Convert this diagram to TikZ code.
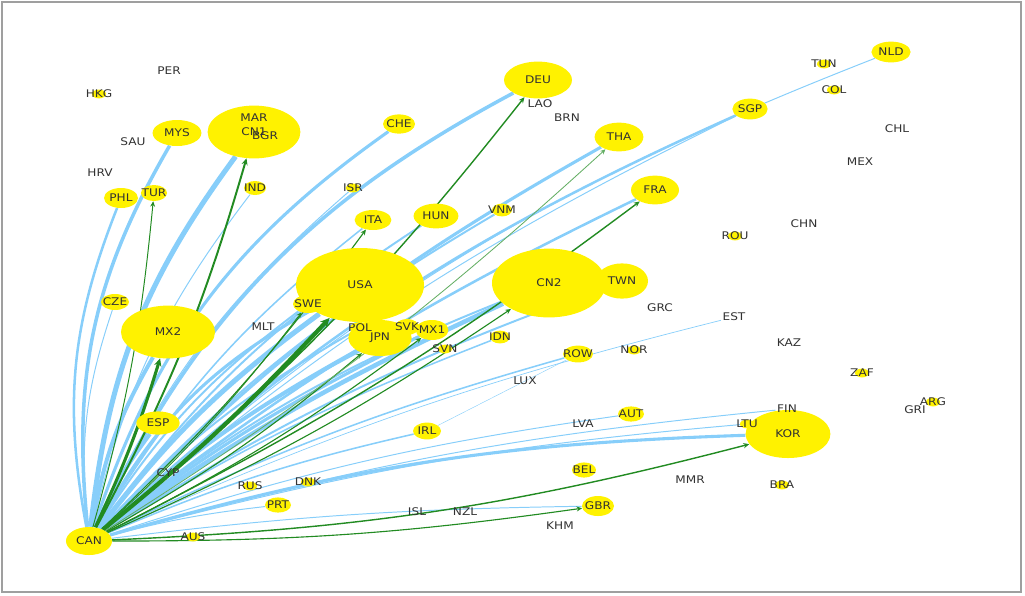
\documentclass[tikz,border=0pt]{standalone}
\usepackage{fontspec}
\newfontfamily\lblfont{DejaVu Sans}[FakeStretch=1.15]
\newcommand\cfont{\lblfont\fontsize{7.5}{9}\selectfont}
\usetikzlibrary{shapes.geometric,arrows.meta}
\definecolor{skyb}{RGB}{135,206,250}
\definecolor{fgreen}{RGB}{34,139,34}
\definecolor{txt}{RGB}{50,50,50}
\pgfdeclarelayer{bg}
\pgfsetlayers{bg,main}

\begin{document}
\begin{tikzpicture}[x=0.025cm, y=-0.025cm,
	% Define the style for the country bubbles
	cty/.style={ellipse, fill=yellow, inner sep=0pt},
	bub/.style n args={3}{cty, minimum width=#1cm, minimum height=#2cm, label={center:#3}},
	dot/.style={cty, minimum width=0.35cm, minimum height=0.22cm, label={center:#1}},
	tag/.style={font=\cfont, text=txt, inner sep=1pt},
	every label/.style={font=\cfont, text=txt, inner sep=0pt},
	% links
	blu/.style={draw=skyb, line width=#1pt},
	grn/.style={draw=fgreen, line width=#1pt, -{Stealth[length=3pt 1.2, width=2.6pt 1.2]}}
	]
	
	\useasboundingbox (0,0) rectangle (1025,595);
	\draw[gray!75, line width=1.2pt] (2,2) rectangle (1021,592);
	
	% --- BIG BUBBLES ---
	\node[bub={1.15}{0.7}{CAN}] (can) at (89,541) {};
	\node[bub={3.2}{1.85}{USA}] (usa) at (360,285) {};
	\node[bub={2.85}{1.72}{CN2}] (cn2) at (549,283) {};
	\node[bub={1.3}{0.88}{TWN}] (twn) at (622,281) {};
	\node[bub={2.32}{1.32}{CN1}] (cn1) at (254,132) {};
	\node[bub={2.35}{1.32}{MX2}] (mx2) at (168,332) {};
	\node[bub={1.58}{0.9}{JPN}] (jpn) at (380,338) {};
	\node[bub={2.12}{1.2}{KOR}] (kor) at (788,434) {};
	\node[bub={1.7}{0.92}{DEU}] (deu) at (538,80) {};
	\node[bub={1.22}{0.72}{THA}] (tha) at (619,137) {};
	\node[bub={1.2}{0.72}{FRA}] (fra) at (655,190) {};
	\node[bub={1.12}{0.62}{HUN}] (hun) at (436,216) {};
	\node[bub={0.92}{0.5}{ITA}] (ita) at (373,220) {};
	\node[bub={0.8}{0.48}{CHE}] (che) at (399,124) {};
	\node[bub={1.22}{0.65}{MYS}] (mys) at (177,133) {};
	\node[bub={0.85}{0.5}{PHL}] (phl) at (121,198) {};
	\node[bub={0.65}{0.4}{TUR}] (tur) at (154,193) {};
	\node[bub={0.55}{0.35}{IND}] (ind) at (255,188) {};
	\node[bub={0.88}{0.52}{SGP}] (sgp) at (750,109) {};
	\node[bub={0.98}{0.52}{NLD}] (nld) at (891,52) {};
	\node[bub={1.08}{0.58}{ESP}] (esp) at (158,423) {};
	\node[bub={0.7}{0.4}{CZE}] (cze) at (115,302) {};
	\node[bub={0.82}{0.5}{MX1}] (mx1) at (432,330) {};
	\node[bub={0.75}{0.45}{SWE}] (swe) at (308,304) {};
	\node[bub={0.6}{0.4}{SVK}] (svk) at (407,327) {};
	\node[bub={0.5}{0.3}{POL}] (pol) at (360,328) {};
	\node[bub={0.5}{0.32}{IDN}] (idn) at (500,337) {};
	\node[bub={0.75}{0.42}{ROW}] (row) at (578,354) {};
	\node[bub={0.65}{0.38}{AUT}] (aut) at (631,414) {};
	\node[bub={0.7}{0.42}{IRL}] (irl) at (427,431) {};
	\node[bub={0.6}{0.38}{BEL}] (bel) at (584,470) {};
	\node[bub={0.8}{0.5}{GBR}] (gbr) at (598,506) {};
	\node[bub={0.65}{0.38}{PRT}] (prt) at (278,505) {};
	\node[bub={0.5}{0.32}{VNM}] (vnm) at (502,210) {};
	
	% --- SMALL DOTS ---
	\node[dot=SVN] (svn) at (445,349) {};
	\node[dot=NOR] (nor) at (634,350) {};
	\node[dot=ZAF] (zaf) at (862,373) {};
	\node[dot=ARG] (arg) at (933,402) {};
	\node[dot=ROU] (rou) at (735,236) {};
	\node[dot=COL] (col) at (834,90) {};
	\node[dot=TUN] (tun) at (824,64) {};
	\node[dot=ISR] (isr) at (353,188) {};
	\node[dot=HKG] (hkg) at (99,94) {};
	\node[dot=RUS] (rus) at (250,486) {};
	\node[dot=DNK] (dnk) at (308,482) {};
	\node[dot=AUS] (aus) at (193,537) {};
	\node[dot=BRA] (bra) at (782,485) {};
	\node[dot=LTU] (ltu) at (747,424) {};
	
	% --- PLAIN LABELS ---
	\node[tag] (per) at (169,71) {PER};
	\node[tag] (sau) at (133,142) {SAU};
	\node[tag] (hrv) at (100,173) {HRV};
	\node[tag] (mlt) at (263,327) {MLT};
	\node[tag] (cyp) at (168,473) {CYP};
	\node[tag] (lux) at (525,381) {LUX};
	\node[tag] (grc) at (660,308) {GRC};
	\node[tag] (lva) at (583,424) {LVA};
	\node[tag] (isl) at (417,512) {ISL};
	\node[tag] (nzl) at (465,512) {NZL};
	\node[tag] (khm) at (560,526) {KHM};
	\node[tag] (mmr) at (690,480) {MMR};
	\node[tag] (fin) at (787,409) {FIN};
	\node[tag] (gri) at (915,410) {GRI};
	\node[tag] (kaz) at (789,343) {KAZ};
	\node[tag] (est) at (734,317) {EST};
	\node[tag] (chn) at (804,224) {CHN};
	\node[tag] (mex) at (860,162) {MEX};
	\node[tag] (chl) at (897,129) {CHL};
	\node[tag] (lao) at (540,104) {LAO};
	\node[tag] (brn) at (567,118) {BRN};
	\node[tag] (mar) at (254,118) {MAR};
	\node[tag] (bgr) at (265,136) {BGR};
	
	% --- LINKS ---
	\begin{pgfonlayer}{bg}
	\draw[blu=1.8] (can) to[bend left=16] (phl);
	\draw[blu=0.7] (can) to[bend left=12] (cze);
	\draw[blu=2.5] (can) to[bend left=18] (mys);
	\draw[blu=3.6] (can) to[bend left=15] (cn1);
	\draw[blu=0.7] (can) to[bend left=12] (ind);
	\draw[blu=2.2] (can) to[bend left=18] (che);
	\draw[blu=0.7] (can) to[bend left=12] (isr);
	\draw[blu=2.5] (can) to[bend left=18] (deu);
	\draw[blu=1.1] (can) to[bend left=10] (ita);
	\draw[blu=1.4] (can) to[bend left=10] (hun);
	\draw[blu=3.6] (can) to[bend left=8] (usa);
	\draw[blu=2.2] (can) to[bend left=16] (usa);
	\draw[blu=1.4] (can) to[bend left=8] (vnm);
	\draw[blu=2.2] (can) to[bend left=8] (tha);
	\draw[blu=1.8] (can) to[bend left=9] (sgp);
	\draw[blu=0.7] (can) to[bend left=7] (sgp);
	\draw[blu=0.7] (can) to[bend left=10] (nld);
	\draw[blu=1.8] (can) to[bend left=6] (fra);
	\draw[blu=3.2] (can) to[bend left=5] (cn2);
	\draw[blu=1.4] (can) to[bend left=8] (cn2);
	\draw[blu=1.4] (can) to[bend left=6] (twn);
	\draw[blu=2.8] (can) to[bend left=6] (jpn);
	\draw[blu=2.2] (can) to[bend left=5] (mx1);
	\draw[blu=1.4] (can) to[bend left=7] (svk);
	\draw[blu=1.4] (can) to[bend left=8] (pol);
	\draw[blu=1.4] (can) to[bend left=10] (swe);
	\draw[blu=2.8] (can) to[bend left=10] (mx2);
	\draw[blu=2.8] (can) to[bend left=6] (esp);
	\draw[blu=1.1] (can) to[bend left=5] (idn);
	\draw[blu=1.1] (can) to[bend left=5] (row);
	\draw[blu=0.5] (can) to[bend left=5] (est);
	\draw[blu=1.1] (can) to[bend left=5] (irl);
	\draw[blu=0.7] (can) to[bend left=5] (aut);
	\draw[blu=0.7] (can) to[bend left=5] (ltu);
	\draw[blu=0.7] (can) to[bend left=5] (fin);
	\draw[blu=2.2] (can) to[bend left=7] (kor);
	\draw[blu=0.7] (can) to[bend left=3] (gbr);
	\draw[blu=0.7] (can) to[bend left=4] (prt);
	\draw[blu=0.3] (irl) -- (row);
	
	\draw[grn=0.7] (can) to[bend right=5] (tur);
	\draw[grn=1.4] (can) to[bend right=6] (cn1);
	\draw[grn=2.2] (can) to[bend right=4] (mx2);
	\draw[grn=3] (can) to[bend right=4] (usa);
	\draw[grn=0.6] (can) to[bend right=5] (swe);
	\draw[grn=0.8] (can) to[bend right=5] (jpn);
	\draw[grn=0.8] (can) to[bend right=5] (mx1);
	\draw[grn=0.8] (can) to[bend right=5] (ita);
	\draw[grn=1] (can) to[bend right=6] (deu);
	\draw[grn=0.8] (can) to[bend right=5] (cn2);
	\draw[grn=0.6, draw=fgreen!70] (can) to[bend right=5] (tha);
	\draw[grn=1] (can) to[bend right=5] (fra);
	\draw[grn=1] (can) to[bend right=6] (kor);
	\draw[grn=0.8] (can) to[bend right=4] (gbr);
	\end{pgfonlayer}
	
\end{tikzpicture}
\end{document}
